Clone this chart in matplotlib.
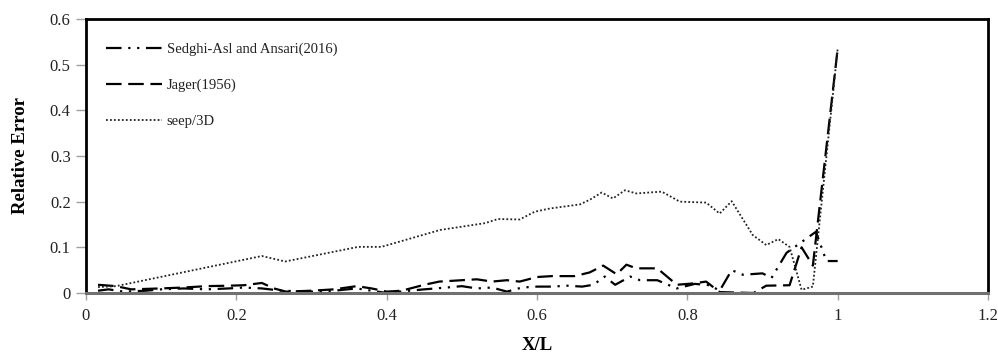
import matplotlib
matplotlib.use("Agg")
import matplotlib.pyplot as plt

# ---- data ----
x_sedghi = [0.016, 0.03, 0.05, 0.08, 0.10, 0.13, 0.16, 0.19, 0.21, 0.234, 0.26, 0.30, 0.33, 0.36,
            0.38, 0.40, 0.43, 0.45, 0.48, 0.50, 0.52, 0.54, 0.56, 0.58, 0.60, 0.62, 0.64, 0.66,
            0.675, 0.69, 0.704, 0.724, 0.737, 0.76, 0.786, 0.81, 0.83, 0.843, 0.859, 0.874,
            0.90, 0.912, 0.932, 0.971, 0.985, 1.0]
y_sedghi = [0.005, 0.008, 0.003, 0.005, 0.008, 0.010, 0.008, 0.010, 0.012, 0.010, 0.005, 0.003,
            0.005, 0.010, 0.005, 0.000, 0.005, 0.008, 0.012, 0.015, 0.010, 0.012, 0.003, 0.012,
            0.014, 0.014, 0.016, 0.014, 0.018, 0.036, 0.018, 0.036, 0.028, 0.028, 0.010, 0.020,
            0.017, 0.005, 0.050, 0.040, 0.043, 0.033, 0.088, 0.134, 0.070, 0.070]

x_jager = [0.016, 0.04, 0.06, 0.10, 0.13, 0.16, 0.19, 0.21, 0.234, 0.25, 0.266, 0.30, 0.33,
           0.36, 0.38, 0.40, 0.42, 0.45, 0.47, 0.50, 0.52, 0.54, 0.56, 0.577, 0.60, 0.62, 0.65,
           0.67, 0.688, 0.706, 0.719, 0.732, 0.76, 0.786, 0.808, 0.825, 0.843, 0.888, 0.905,
           0.936, 0.952, 0.967, 1.0]
y_jager = [0.018, 0.015, 0.008, 0.010, 0.012, 0.015, 0.016, 0.017, 0.022, 0.010, 0.003, 0.005,
           0.008, 0.015, 0.010, 0.003, 0.005, 0.018, 0.025, 0.028, 0.030, 0.025, 0.028, 0.025,
           0.035, 0.037, 0.037, 0.045, 0.060, 0.041, 0.062, 0.054, 0.054, 0.018, 0.021, 0.025,
           0.002, 0.000, 0.016, 0.017, 0.100, 0.060, 0.535]

x_seep = [0.016, 0.04, 0.234, 0.265, 0.362, 0.393, 0.471, 0.531, 0.548, 0.577, 0.597, 0.617,
          0.657, 0.67, 0.686, 0.701, 0.717, 0.732, 0.766, 0.79, 0.825, 0.843, 0.859, 0.887,
          0.905, 0.921, 0.936, 0.952, 0.967, 1.0]
y_seep = [0.013, 0.015, 0.081, 0.069, 0.101, 0.101, 0.138, 0.153, 0.162, 0.161, 0.178, 0.185,
          0.194, 0.204, 0.220, 0.207, 0.225, 0.218, 0.222, 0.200, 0.198, 0.174, 0.201, 0.127,
          0.105, 0.118, 0.101, 0.007, 0.014, 0.535]

labels = ["Sedghi-Asl and Ansari(2016)", "Jager(1956)", "seep/3D"]
x_ticks = [0, 0.2, 0.4, 0.6, 0.8, 1, 1.2]
x_ticklabels = ["0", "0.2", "0.4", "0.6", "0.8", "1", "1.2"]
y_ticks = [0, 0.1, 0.2, 0.3, 0.4, 0.5, 0.6]
y_ticklabels = ["0", "0.1", "0.2", "0.3", "0.4", "0.5", "0.6"]

# ---- figure ----
plt.rcParams['font.family'] = ['Liberation Serif', 'DejaVu Serif']
W, H = 998, 352
fig = plt.figure(figsize=(W / 100, H / 100), dpi=100)
ax = fig.add_axes([86 / W, 1 - 293 / H, (988 - 86) / W, (293 - 19) / H])

ax.plot(x_sedghi, y_sedghi, color='black', lw=1.6, linestyle=(0, (7, 3, 1, 3, 1, 3)), label=labels[0])
ax.plot(x_jager, y_jager, color='black', lw=1.6, linestyle=(0, (7, 3)), label=labels[1])
ax.plot(x_seep, y_seep, color='#222222', lw=1.3, linestyle=(0, (1, 1.2)), label=labels[2])

ax.set_xlim(0, 1.2)
ax.set_ylim(0, 0.6)
ax.set_xticks(x_ticks)
ax.set_xticklabels(x_ticklabels)
ax.set_yticks(y_ticks)
ax.set_yticklabels(y_ticklabels)
ax.tick_params(axis='both', direction='out', width=1, color='#a0a0a0',
               labelsize=12, labelcolor='#222222')
ax.tick_params(axis='x', length=5, pad=6)
ax.tick_params(axis='y', length=7, pad=4)

for s in ['top', 'right', 'left']:
    ax.spines[s].set_color('black')
    ax.spines[s].set_linewidth(2)
ax.spines['bottom'].set_color('#707070')
ax.spines['bottom'].set_linewidth(2.2)

ax.set_xlabel("X/L", fontsize=13.5, fontweight='bold', labelpad=9)
ax.set_ylabel("Relative Error", fontsize=13.5, fontweight='bold', labelpad=15)

leg = ax.legend(loc='upper left', bbox_to_anchor=(0.008, 0.962), frameon=False,
                fontsize=10.5, handlelength=3.8, handletextpad=0.35, labelspacing=1.55)
for t in leg.get_texts():
    t.set_color('#222222')

fig.savefig("out.png", dpi=100, facecolor='white')
